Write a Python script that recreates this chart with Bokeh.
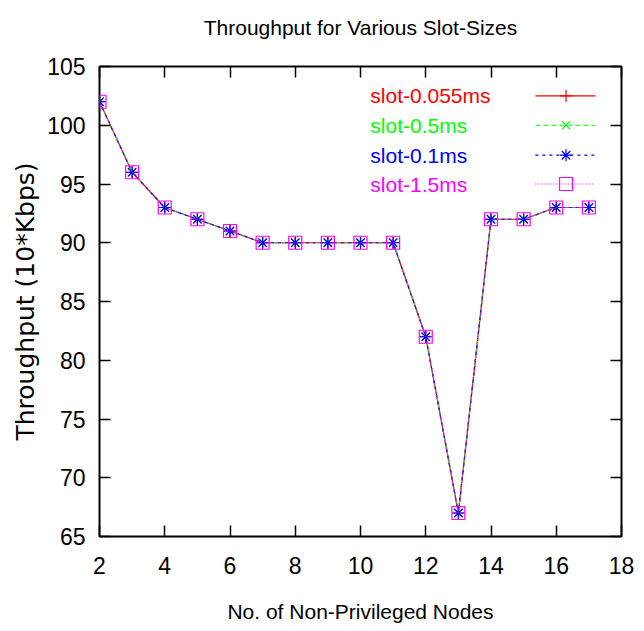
from bokeh.plotting import figure
from bokeh.models import LinearAxis, FixedTicker, Range1d, Title
from bokeh.core.properties import value
from bokeh.embed import file_html
from bokeh.resources import INLINE

# ---- data ----
nodes = [2, 3, 4, 5, 6, 7, 8, 9, 10, 11, 12, 13, 14, 15, 16, 17]
slot_0055 = [102, 96, 93, 92, 91, 90, 90, 90, 90, 90, 82, 67, 92, 92, 93, 93]
slot_05 = [102, 96, 93, 92, 91, 90, 90, 90, 90, 90, 82, 67, 92, 92, 93, 93]
slot_01 = [102, 96, 93, 92, 91, 90, 90, 90, 90, 90, 82, 67, 92, 92, 93, 93]
slot_15 = [102, 96, 93, 92, 91, 90, 90, 90, 90, 90, 82, 67, 92, 92, 93, 93]
series_names = ["slot-0.055ms", "slot-0.5ms", "slot-0.1ms", "slot-1.5ms"]
x_ticks = [2, 4, 6, 8, 10, 12, 14, 16, 18]
y_ticks = [65, 70, 75, 80, 85, 90, 95, 100, 105]

TITLE = "Throughput for Various Slot-Sizes"
XLABEL = "No. of Non-Privileged Nodes"
YLABEL = "Throughput (10*Kbps)"

# ---- styles ----
FONT = "Liberation Sans"
colors = ["#ff0000", "#00ff00", "#0000ff", "#ff00ff"]
dashes = ["solid", "5 3", "3 4", "1 2"]
markers = ["cross", "x", "asterisk", "square"]
msizes = [12, 11, 12, 13]

p = figure(width=644, height=631, x_range=Range1d(2, 18), y_range=Range1d(65, 105),
           output_backend="svg", toolbar_location=None, title=None,
           min_border_left=99, min_border_right=23, min_border_top=66, min_border_bottom=95,
           background_fill_color="white", border_fill_color="white")
p.grid.visible = False
p.outline_line_color = "black"
p.outline_line_width = 2

for ax, ticks in ((p.xaxis[0], x_ticks), (p.yaxis[0], y_ticks)):
    ax.ticker = FixedTicker(ticks=ticks)
    ax.axis_line_color = None
    ax.major_tick_in = 11
    ax.major_tick_out = 0
    ax.major_tick_line_width = 1.5
    ax.minor_tick_line_color = None
    ax.major_label_text_font = FONT
    ax.major_label_text_font_size = "23px"
    ax.major_label_text_color = "black"
    ax.axis_label_text_color = "black"

p.xaxis.major_label_standoff = 20
p.yaxis.major_label_standoff = 14
p.xaxis.axis_label = XLABEL
p.xaxis.axis_label_text_font = FONT
p.xaxis.axis_label_text_font_size = "21px"
p.xaxis.axis_label_text_font_style = "normal"
p.xaxis.axis_label_standoff = 23
p.yaxis.axis_label = YLABEL
p.yaxis.axis_label_text_font = "DejaVu Sans"
p.yaxis.axis_label_text_font_size = "25px"
p.yaxis.axis_label_text_font_style = "normal"
p.yaxis.axis_label_standoff = 4

# mirror ticks on top and right
for loc, ticks in (("above", x_ticks), ("right", y_ticks)):
    a = LinearAxis(ticker=FixedTicker(ticks=ticks))
    a.axis_line_color = None
    a.major_tick_in = 11
    a.major_tick_out = 0
    a.major_tick_line_width = 1.5
    a.minor_tick_line_color = None
    a.major_label_text_font_size = "0px"
    a.major_label_text_color = None
    a.major_label_standoff = 0
    p.add_layout(a, loc)

# white spacer next to the frame, then the real title above it
p.add_layout(Title(text="_", text_font_size="20px", standoff=4, text_color="white"), "above")
p.add_layout(Title(text=TITLE, align="center", text_font=FONT, text_font_size="21px",
                   text_font_style="normal", text_color="black", standoff=0), "above")

series = [slot_0055, slot_05, slot_01, slot_15]
for ys, c, d, m, s in zip(series, colors, dashes, markers, msizes):
    p.line(nodes, ys, line_color=c, line_dash=d, line_width=1.2)
    p.scatter(nodes, ys, marker=m, size=s, line_color=c, fill_color=None, line_width=1.2)

# ---- key (gnuplot style: text then sample) ----
key_text_x = 10.3
key_line_x0 = 15.36
key_line_x1 = 17.2
key_mark_x = 16.3
key_rows = [102.5, 100.0, 97.45, 95.0]
for name, c, d, m, s, ky in zip(series_names, colors, dashes, markers, msizes, key_rows):
    p.text(x=[key_text_x], y=[ky], text=[name], text_color=c, text_font=value(FONT),
           text_font_size="21px", text_align="left", text_baseline="middle")
    p.segment(x0=[key_line_x0], y0=[ky], x1=[key_line_x1], y1=[ky], line_color=c, line_dash=d, line_width=1.2)
    p.scatter([key_mark_x], [ky], marker=m, size=s, line_color=c, fill_color=None, line_width=1.2)

open("out.html", "w").write(file_html(p, INLINE))
